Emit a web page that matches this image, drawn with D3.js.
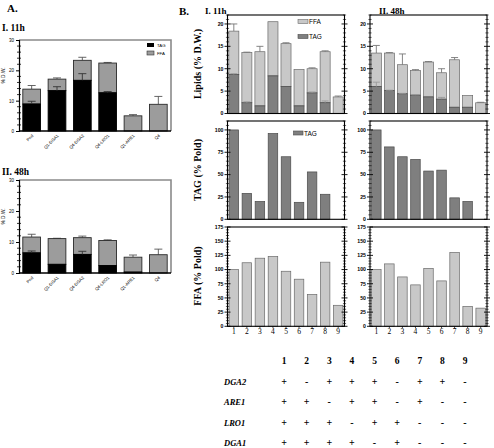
<!DOCTYPE html>
<html><head><meta charset="utf-8">
<script src="https://cdn.jsdelivr.net/npm/d3@7"></script>
<style>body{margin:0;background:#fff}svg{display:block}</style>
</head><body><svg id="c" width="494" height="448"></svg>
<script>
// ---------- Panel A data ----------
const groupsA = ["Pnd", "Q1-DGA1", "Q4-DGA2", "Q4-LRO1", "Q1-ARE1", "Q4"];
const tagA11 = [8.9, 13.3, 16.7, 12.6, 0, 0];
const tagSdA11 = [0.9, 1.3, 2.2, 0.4, 0, 0];
const ffaA11 = [4.9, 3.8, 6.6, 9.8, 5.0, 8.8];
const totSdA11 = [1.2, 0.4, 1.0, 0.2, 0.4, 2.6];
const tagA48 = [6.5, 2.8, 6.0, 2.4, 0.3, 0];
const tagSdA48 = [0.6, 0, 1.0, 0, 0, 0];
const ffaA48 = [5.1, 8.3, 5.4, 8.1, 4.8, 5.9];
const totSdA48 = [0.9, 0.1, 0.5, 0.2, 0.7, 1.8];
const ticksA = [0, 10, 20, 30];

// ---------- Panel B data ----------
const strains = ["1", "2", "3", "4", "5", "6", "7", "8", "9"];
const tagB11 = [8.7, 2.4, 1.7, 8.4, 6.0, 1.7, 4.6, 2.4, 0];
const tagSdB11 = [0.2, 0.2, 0, 0, 0, 0, 0.2, 0.4, 0];
const ffaB11 = [9.7, 11.2, 12.1, 12.1, 9.6, 8.1, 5.4, 11.4, 3.7];
const totSdB11 = [1.6, 0.1, 1.2, 0, 0.2, 0, 0.2, 0.2, 0.2];
const tagB48 = [6.0, 5.1, 4.4, 4.1, 3.7, 3.2, 1.4, 1.4, 0];
const tagSdB48 = [1.0, 0.1, 0.1, 0.1, 0, 0.4, 0, 0, 0];
const ffaB48 = [7.5, 8.4, 6.5, 5.5, 7.8, 5.9, 10.6, 2.6, 2.4];
const totSdB48 = [1.7, 0.1, 2.4, 0.2, 0.1, 0.9, 0.5, 0, 0.1];
const tagPold11 = [100, 29, 20, 96, 70, 19, 53, 28, 0];
const tagPold48 = [100, 81, 70, 67, 54, 55, 24, 20, 0];
const ffaPold11 = [100, 112, 120, 123, 97, 83, 56, 113, 37];
const ffaPold48 = [100, 110, 87, 73, 102, 80, 130, 35, 32];
const lipidTicks = [0, 5, 10, 15, 20];
const poldTicksTAG = [0, 25, 50, 75, 100];
const poldTicksFFA = [0, 25, 50, 75, 100, 125, 150, 175];

// ---------- Genotype table ----------
const genes = ["DGA2", "ARE1", "LRO1", "DGA1"];
const genotype = {
  DGA2: ["+", "-", "+", "+", "+", "-", "+", "+", "-"],
  ARE1: ["+", "+", "-", "+", "+", "-", "+", "-", "-"],
  LRO1: ["+", "+", "+", "-", "+", "+", "-", "-", "-"],
  DGA1: ["+", "+", "+", "+", "-", "+", "-", "-", "-"]
};

const svg = d3.select("#c");
const serif = "'Liberation Serif','DejaVu Serif',serif";
const sans = "'Liberation Sans','DejaVu Sans',Arial,sans-serif";

function txt(g, x, y, s, o = {}) {
  const t = g.append("text").attr("x", x).attr("y", y).text(s)
    .attr("font-family", o.family || serif)
    .attr("font-size", o.size || 10)
    .attr("font-weight", o.weight || "bold")
    .attr("text-anchor", o.anchor || "start")
    .attr("fill", o.fill || "#000");
  if (o.italic) t.attr("font-style", "italic");
  if (o.rotate !== undefined) t.attr("transform", `rotate(${o.rotate},${x},${y})`);
  return t;
}

// ================= PANEL A =================
txt(svg, 7, 12, "A.", { size: 11 });

function chartA(title, titleY, yTop, yBot, tag, tagSd, ffa, totSd, legend) {
  const g = svg.append("g");
  txt(g, 2, titleY, title, { size: 9.5 });
  const x = d3.scaleBand().domain(groupsA).range([19, 171]).paddingInner(0.3).paddingOuter(0.15);
  const y = d3.scaleLinear().domain([0, 30]).range([yBot, yTop]);
  g.append("path").attr("d", `M19,${yTop}H171V${yBot}`)
    .attr("fill", "none").attr("stroke", "#8a8a8a").attr("stroke-width", 1.6);
  const bw = x.bandwidth();
  groupsA.forEach((k, i) => {
    const x0 = x(k);
    const tot = tag[i] + ffa[i];
    if (totSd[i] > 0) {
      const xc = x0 + bw / 2;
      g.append("line").attr("x1", xc).attr("x2", xc).attr("y1", y(tot)).attr("y2", y(tot + totSd[i]))
        .attr("stroke", "#555").attr("stroke-width", 0.9);
      g.append("line").attr("x1", xc - 4).attr("x2", xc + 4).attr("y1", y(tot + totSd[i])).attr("y2", y(tot + totSd[i]))
        .attr("stroke", "#555").attr("stroke-width", 0.9);
    }
    g.append("rect").attr("x", x0).attr("y", y(tot)).attr("width", bw).attr("height", y(tag[i]) - y(tot))
      .attr("fill", "#9c9c9c").attr("stroke", "#2a2a2a").attr("stroke-width", 0.9);
    if (tag[i] > 0) {
      g.append("rect").attr("x", x0).attr("y", y(tag[i])).attr("width", bw).attr("height", y(0) - y(tag[i]))
        .attr("fill", "#000").attr("stroke", "#000").attr("stroke-width", 0.9);
    }
    if (tagSd[i] > 0) {
      const xc = x0 + bw / 2;
      g.append("line").attr("x1", xc).attr("x2", xc).attr("y1", y(tag[i])).attr("y2", y(tag[i] + tagSd[i]))
        .attr("stroke", "#333").attr("stroke-width", 0.9);
      g.append("line").attr("x1", xc - 4).attr("x2", xc + 4).attr("y1", y(tag[i] + tagSd[i])).attr("y2", y(tag[i] + tagSd[i]))
        .attr("stroke", "#333").attr("stroke-width", 0.9);
    }
  });
  g.append("line").attr("x1", 19).attr("x2", 171).attr("y1", yBot).attr("y2", yBot).attr("stroke", "#000").attr("stroke-width", 1.4);
  const ax = g.append("g").attr("transform", "translate(19,0)")
    .call(d3.axisLeft(y).tickValues(ticksA).tickSize(3).tickPadding(2));
  ax.select(".domain").attr("stroke-width", 1.2);
  ax.selectAll("text").attr("font-family", sans).attr("font-size", 4.5);
  d3.range(0, 31, 2).filter(v => v % 10 !== 0).forEach(v => {
    g.append("line").attr("x1", 17).attr("x2", 21).attr("y1", y(v)).attr("y2", y(v)).attr("stroke", "#000").attr("stroke-width", 0.8);
  });
  txt(g, 5, (yTop + yBot) / 2 - 10, "% D.W.", { family: sans, size: 4.8, weight: "normal", anchor: "middle", rotate: -90 });
  groupsA.forEach(k => {
    const xc = x(k) + bw / 2 + 2;
    txt(g, xc, yBot + 5, k, { family: sans, size: 4.3, weight: "normal", anchor: "end", rotate: -45 });
  });
  if (legend) {
    g.append("rect").attr("x", 147).attr("y", yTop + 3).attr("width", 7).attr("height", 4).attr("fill", "#000");
    txt(g, 157, yTop + 7, "TAG", { family: sans, size: 4.3, weight: "normal" });
    g.append("rect").attr("x", 147).attr("y", yTop + 11).attr("width", 7).attr("height", 4)
      .attr("fill", "#9c9c9c").attr("stroke", "#333").attr("stroke-width", 0.6);
    txt(g, 157, yTop + 15, "FFA", { family: sans, size: 4.3, weight: "normal" });
  }
}
chartA("I. 11h", 31, 40, 131, tagA11, tagSdA11, ffaA11, totSdA11, true);
chartA("II. 48h", 175, 180, 273, tagA48, tagSdA48, ffaA48, totSdA48, false);

// ================= PANEL B =================
txt(svg, 179, 15, "B.", { size: 11 });
txt(svg, 205, 14, "I. 11h", { size: 9 });
txt(svg, 379, 14, "II. 48h", { size: 9 });

const TAGC = "#7f7f7f", TAGS = "#4a4a4a", FFAC = "#c8c8c8", FFAS = "#6a6a6a";

function frameAxes(g, x0, x1, y, ticks, minorStep, showLabels) {
  const [yb, yt] = y.range();
  g.append("rect").attr("x", x0).attr("y", yt).attr("width", x1 - x0).attr("height", yb - yt)
    .attr("fill", "none").attr("stroke", "#000").attr("stroke-width", 1.1);
  const d = y.domain();
  d3.range(d[0], d[1] + 0.001, minorStep).forEach(v => {
    const major = ticks.includes(v);
    const L = major ? 3 : 1.6;
    [x0, x1].forEach(xx => {
      g.append("line").attr("x1", xx - L).attr("x2", xx + L).attr("y1", y(v)).attr("y2", y(v))
        .attr("stroke", "#000").attr("stroke-width", major ? 0.9 : 0.6);
    });
  });
  if (showLabels) {
    ticks.forEach(v => txt(g, x0 - 4, y(v) + 1.8, String(v), { family: sans, size: 5.2, anchor: "end" }));
  }
}

function lipidChart(x0, tag, tagSd, ffa, totSd, legend) {
  const g = svg.append("g");
  const x = d3.scaleBand().domain(strains).range([x0, x0 + 117]).paddingInner(0.23).paddingOuter(0.1);
  const y = d3.scaleLinear().domain([0, 22]).range([113.5, 15]);
  const bw = x.bandwidth();
  strains.forEach((k, i) => {
    const xb = x(k), xc = xb + bw / 2, tot = tag[i] + ffa[i];
    if (totSd[i] > 0) {
      g.append("line").attr("x1", xc).attr("x2", xc).attr("y1", y(tot)).attr("y2", y(tot + totSd[i])).attr("stroke", "#777").attr("stroke-width", 0.9);
      g.append("line").attr("x1", xc - 3.5).attr("x2", xc + 3.5).attr("y1", y(tot + totSd[i])).attr("y2", y(tot + totSd[i])).attr("stroke", "#777").attr("stroke-width", 0.9);
    }
    g.append("rect").attr("x", xb).attr("y", y(tot)).attr("width", bw).attr("height", y(tag[i]) - y(tot))
      .attr("fill", FFAC).attr("stroke", FFAS).attr("stroke-width", 0.7);
    if (tag[i] > 0) {
      g.append("rect").attr("x", xb).attr("y", y(tag[i])).attr("width", bw).attr("height", y(0) - y(tag[i]))
        .attr("fill", TAGC).attr("stroke", TAGS).attr("stroke-width", 0.7);
    }
    if (tagSd[i] > 0) {
      g.append("line").attr("x1", xc).attr("x2", xc).attr("y1", y(tag[i])).attr("y2", y(tag[i] + tagSd[i])).attr("stroke", "#999").attr("stroke-width", 0.9);
      g.append("line").attr("x1", xc - 3.5).attr("x2", xc + 3.5).attr("y1", y(tag[i] + tagSd[i])).attr("y2", y(tag[i] + tagSd[i])).attr("stroke", "#999").attr("stroke-width", 0.9);
    }
  });
  frameAxes(g, x0, x0 + 117, y, lipidTicks, 1, true);
  if (legend) {
    g.append("rect").attr("x", 298).attr("y", 19.5).attr("width", 10).attr("height", 4).attr("fill", FFAC).attr("stroke", FFAS).attr("stroke-width", 0.6);
    txt(g, 309, 24, "FFA", { family: sans, size: 6.5, weight: "normal" });
    g.append("rect").attr("x", 298).attr("y", 34.5).attr("width", 10).attr("height", 4).attr("fill", TAGC).attr("stroke", TAGS).attr("stroke-width", 0.6);
    txt(g, 309, 39, "TAG", { family: sans, size: 6.5, weight: "normal" });
  }
}

function poldChart(x0, vals, yTop, yBot, ymax, ticks, minor, fill, stroke, xLabels, legend) {
  const g = svg.append("g");
  const x = d3.scaleBand().domain(strains).range([x0, x0 + 117]).paddingInner(0.27).paddingOuter(0.12);
  const y = d3.scaleLinear().domain([0, ymax]).range([yBot, yTop]);
  const bw = x.bandwidth();
  strains.forEach((k, i) => {
    if (vals[i] > 0) {
      g.append("rect").attr("x", x(k)).attr("y", y(vals[i])).attr("width", bw).attr("height", y(0) - y(vals[i]))
        .attr("fill", fill).attr("stroke", stroke).attr("stroke-width", 0.7);
    }
  });
  frameAxes(g, x0, x0 + 117, y, ticks, minor, true);
  if (xLabels) {
    strains.forEach(k => {
      const xc = x(k) + bw / 2;
      g.append("line").attr("x1", xc).attr("x2", xc).attr("y1", yBot).attr("y2", yBot + 2).attr("stroke", "#000").attr("stroke-width", 0.7);
      txt(g, xc, yBot + 8, k, { size: 7.5, weight: "normal", anchor: "middle" });
    });
  }
  if (legend) {
    g.append("rect").attr("x", 293.5).attr("y", 131).attr("width", 9.5).attr("height", 4).attr("fill", fill).attr("stroke", stroke).attr("stroke-width", 0.6);
    txt(g, 304, 135.5, "TAG", { family: sans, size: 6.5, weight: "normal" });
  }
}

lipidChart(227.5, tagB11, tagSdB11, ffaB11, totSdB11, true);
lipidChart(370, tagB48, tagSdB48, ffaB48, totSdB48, false);
poldChart(227.5, tagPold11, 121, 219.3, 110, poldTicksTAG, 5, TAGC, TAGS, false, true);
poldChart(370, tagPold48, 121, 219.3, 110, poldTicksTAG, 5, TAGC, TAGS, false, false);
poldChart(227.5, ffaPold11, 227, 326.3, 175, poldTicksFFA, 5, FFAC, FFAS, true, false);
poldChart(370, ffaPold48, 227, 326.3, 175, poldTicksFFA, 5, FFAC, FFAS, true, false);

txt(svg, 201, 64, "Lipids (% D.W.)", { size: 10, anchor: "middle", rotate: -90 });
txt(svg, 201, 170, "TAG (% Pold)", { size: 10, anchor: "middle", rotate: -90 });
txt(svg, 201, 276, "FFA (% Pold)", { size: 10, anchor: "middle", rotate: -90 });

// ================= Genotype table =================
const colX = d3.scalePoint().domain(strains).range([284, 465]);
const rowY = d3.scalePoint().domain(["num"].concat(genes)).range([364, 446]);
strains.forEach(k => txt(svg, colX(k), rowY("num"), k, { size: 9.5, anchor: "middle" }));
genes.forEach(gn => {
  txt(svg, 224, rowY(gn), gn, { size: 8.5, italic: true });
  genotype[gn].forEach((s, i) => {
    txt(svg, colX(strains[i]), rowY(gn), s, { size: 10, anchor: "middle" });
  });
});
</script></body></html>
